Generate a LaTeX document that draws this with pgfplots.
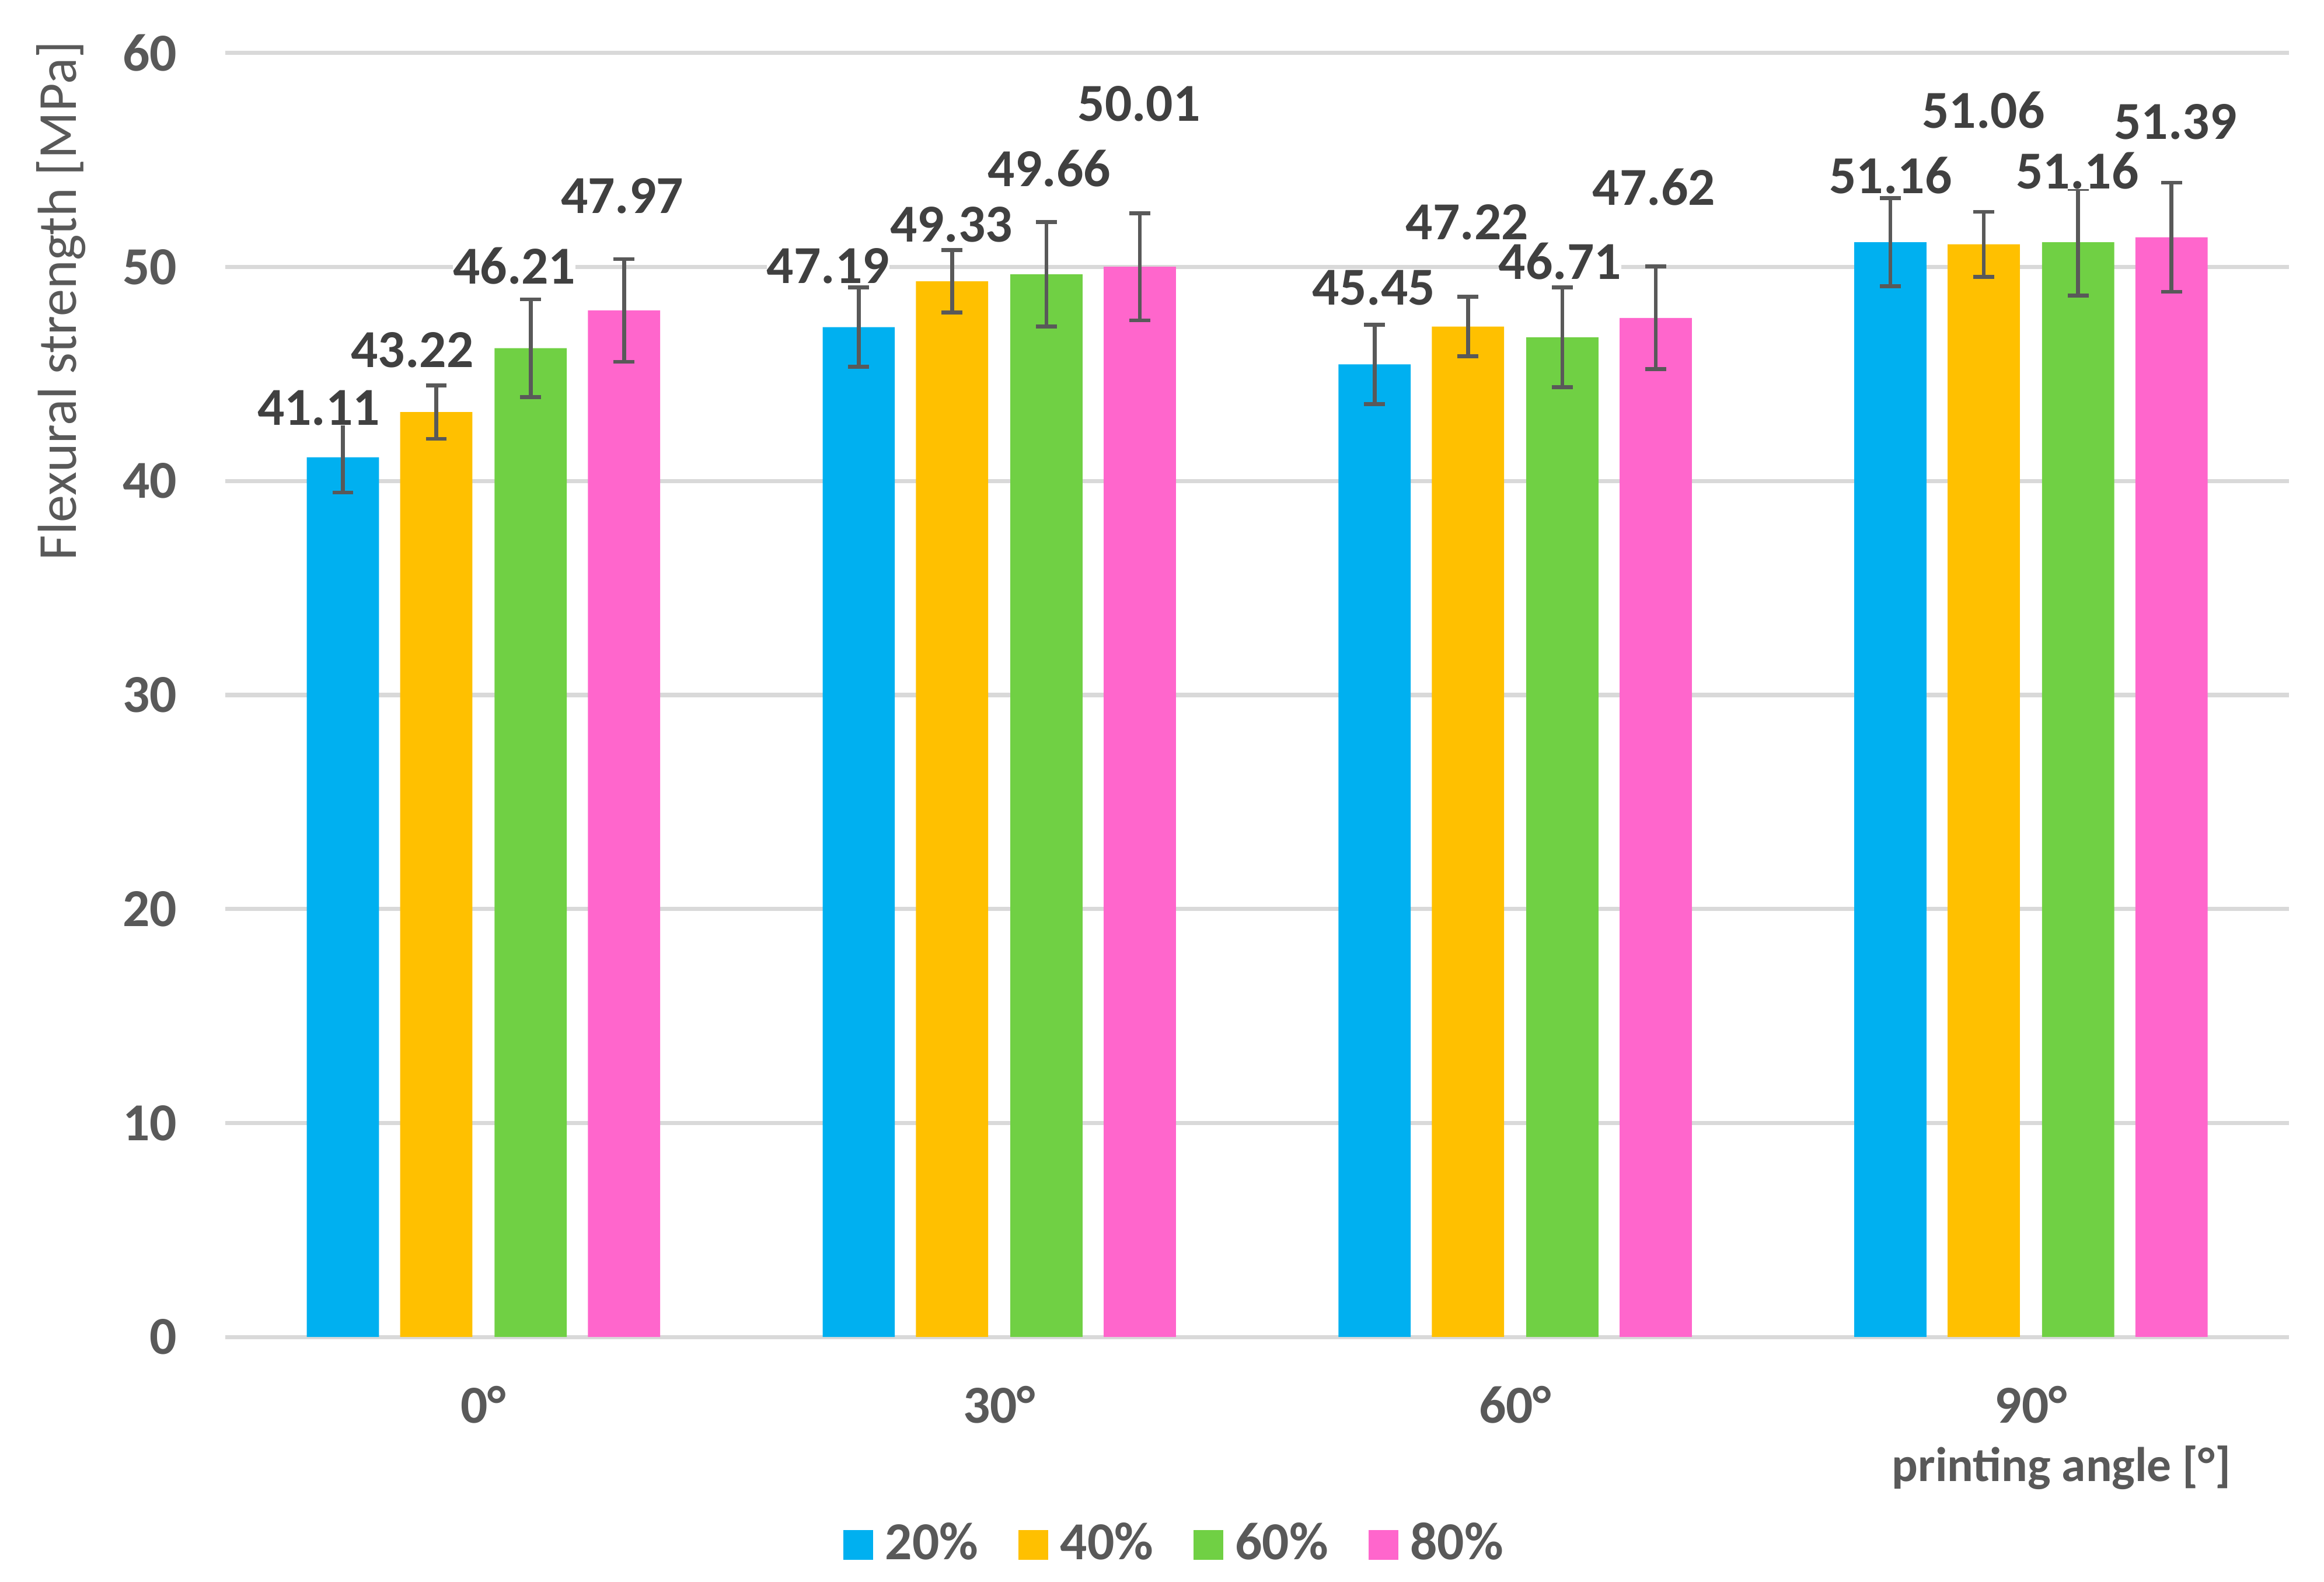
\documentclass[border=0pt]{standalone}
\usepackage{fontspec}
\setmainfont{Carlito}
\usepackage{pgfplots}
\usepackage{pgfplotstable}
\pgfplotsset{compat=1.18}

\definecolor{c20}{HTML}{00B0F0}
\definecolor{c40}{HTML}{FFC000}
\definecolor{c60}{HTML}{70D044}
\definecolor{c80}{HTML}{FF66CC}
\definecolor{gridgray}{HTML}{D9D9D9}
\definecolor{tickgray}{HTML}{595959}
\definecolor{labgray}{HTML}{404040}

% bar positions (group 0..3 plus offset), values and error half-widths
\pgfplotstableread{
xa      y20   e20  xb      y40   e40  xc     y60   e60  xd     y80   e80
-0.2725 41.11 1.65 -0.0915 43.22 1.25 0.0915 46.21 2.28 0.2725 47.97 2.40
0.7275  47.19 1.85 0.9085  49.33 1.46 1.0915 49.66 2.44 1.2725 50.01 2.50
1.7275  45.45 1.85 1.9085  47.22 1.40 2.0915 46.71 2.33 2.2725 47.62 2.40
2.7275  51.16 2.06 2.9085  51.06 1.52 3.0915 51.16 2.50 3.2725 51.39 2.55
}\strength

% data label positions (as placed in the original chart)
\pgfplotstableread{
lx      ly     lab
-0.3195 43.42  41.11
-0.1378 46.12  43.22
0.0598  50.04  46.21
0.2689  53.31  47.97
0.668   50.04  47.19
0.907   51.99  49.33
1.097   54.60  49.66
1.271   57.63  50.01
1.726   49.04  45.45
1.907   52.09  47.22
2.087   50.26  46.71
2.269   53.73  47.62
2.728   54.28  51.16
2.908   57.33  51.06
3.090   54.49  51.16
3.280   56.77  51.39
}\labels

\pgfplotsset{
  legsq/.style={legend image code/.code={\fill[##1] (0mm,-1mm) rectangle (2mm,1mm);}},
  bars/.style={ybar, bar width=0.14, bar shift=0, draw=none,
    error bars/y dir=both, error bars/y explicit,
    error bars/error mark=|,
    error bars/error bar style={draw=tickgray, line width=0.75pt},
    error bars/error mark options={draw=tickgray, mark size=0.7mm, line width=0.75pt}},
}

\begin{document}
\begin{tikzpicture}[font=\fontsize{10.2}{12}\selectfont]
\path[use as bounding box] (-15.14mm,-16.41mm) rectangle (140.86mm,89.76mm);
\begin{axis}[
  scale only axis,
  width=138.5mm, height=86.2mm,
  xmin=-0.5, xmax=3.5,
  ymin=0, ymax=60,
  ytick={0,10,...,60},
  xtick={0,1,2,3},
  xticklabels={0°,30°,60°,90°},
  axis line style={draw=none},
  major tick length=0pt,
  ymajorgrids,
  grid style={color=gridgray, line width=0.8pt},
  clip=false,
  /pgf/number format/assume math mode=true,
  ticklabel style={font=\fontsize{10.2}{12}\selectfont\bfseries, text=tickgray, inner sep=0pt},
  yticklabel style={anchor=east, xshift=-3.19mm},
  xticklabel style={anchor=north, yshift=-3.22mm},
  ylabel={Flexural strength [MPa]},
  ylabel style={at={(axis description cs:-0.0724,0.807)}, anchor=base, rotate=0,
    text=tickgray, font=\fontsize{10.5}{12}\selectfont},
  xlabel={printing angle [°]},
  xlabel style={at={(axis description cs:0.8898,-0.1123)}, anchor=base,
    text=tickgray, font=\fontsize{9.3}{11}\selectfont\bfseries},
  legend columns=4,
  legend style={at={(axis description cs:0.4594,-0.162)}, anchor=center,
    draw=none, fill=none, inner sep=0pt,
    nodes={inner sep=0pt, text=tickgray, font=\fontsize{10.2}{12}\selectfont\bfseries},
    /tikz/every odd column/.append style={column sep=0.8mm},
    /tikz/every even column/.append style={column sep=2.7mm}},
]
\addplot[bars, fill=c20, legsq] table[x=xa, y=y20, y error=e20] {\strength};
\addlegendentry{20\%}
\addplot[bars, fill=c40, legsq] table[x=xb, y=y40, y error=e40] {\strength};
\addlegendentry{40\%}
\addplot[bars, fill=c60, legsq] table[x=xc, y=y60, y error=e60] {\strength};
\addlegendentry{60\%}
\addplot[bars, fill=c80, legsq] table[x=xd, y=y80, y error=e80] {\strength};
\addlegendentry{80\%}

\addplot[draw=none, mark=none, forget plot,
  nodes near coords, point meta=explicit symbolic,
  nodes near coords style={anchor=center, inner sep=0pt, fill=white,
    text=labgray, font=\fontsize{10.2}{12}\selectfont\bfseries}]
  table[x=lx, y=ly, meta=lab] {\labels};
\end{axis}
\end{tikzpicture}
\end{document}
